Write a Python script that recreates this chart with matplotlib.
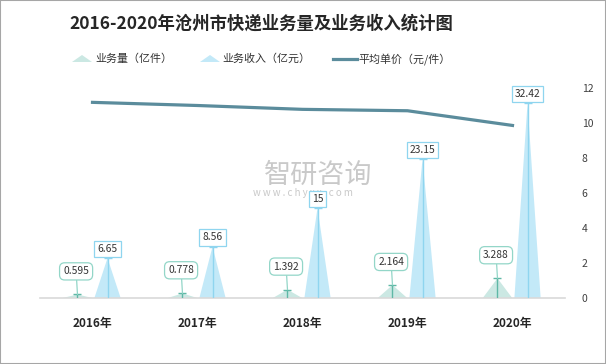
import numpy as np
import matplotlib.pyplot as plt
from matplotlib.patches import Rectangle

plt.rcParams['font.family'] = ['Noto Sans CJK SC', 'DejaVu Sans']

years = ['2016年', '2017年', '2018年', '2019年', '2020年']
volume = [0.595, 0.778, 1.392, 2.164, 3.288]      # 业务量（亿件）
revenue = [6.65, 8.56, 15, 23.15, 32.42]          # 业务收入（亿元）
price = [11.18, 11.00, 10.78, 10.70, 9.86]        # 平均单价（元/件）
right_ticks = [0, 2, 4, 6, 8, 10, 12]

c_vol = '#cbe8e3'
c_vol_line = '#5fb8a6'
c_vol_box = '#93d6c8'
c_rev = '#c3e9f8'
c_rev_line = '#8fd5ef'
c_price = '#5b8c9c'

fig = plt.figure(figsize=(6.06, 3.64), dpi=100)
fig.patches.append(Rectangle((0, 0), 1, 1, transform=fig.transFigure,
                             fill=False, edgecolor='#a6a6a6', lw=1.5))

ax = fig.add_axes([40 / 606, 66 / 364, 525 / 606, 210 / 364])
ax2 = ax.twinx()

x = np.arange(len(years))
off = 0.143
hw_vol = 0.14
hw_rev = 0.125

for i in range(len(years)):
    xv = x[i] - off
    xr = x[i] + off
    ax.fill([xv - hw_vol, xv, xv + hw_vol], [0, volume[i], 0], color=c_vol, lw=0, zorder=2)
    ax.fill([xr - hw_rev, xr, xr + hw_rev], [0, revenue[i], 0], color=c_rev, lw=0, zorder=2)

ax.vlines(x - off, 0, volume, color=c_vol_line, lw=1, zorder=3)
ax.plot(x - off, volume, ls='none', marker='_', ms=6, mew=1, color=c_vol_line, zorder=3)
ax.vlines(x + off, 0, revenue, color=c_rev_line, lw=1, zorder=3)
ax.plot(x + off, revenue, ls='none', marker='_', ms=6, mew=1, color=c_rev_line, zorder=3)

for i in range(len(years)):
    ax.annotate(f'{volume[i]:g}', xy=(x[i] - off, volume[i]), xytext=(-1, 13),
                textcoords='offset points', ha='center', va='bottom', fontsize=7.4,
                color='#333333', zorder=5,
                bbox=dict(boxstyle='round,pad=0.35,rounding_size=0.5', fc='white',
                          ec=c_vol_box, lw=0.9),
                arrowprops=dict(arrowstyle='-', color=c_vol_box, lw=0.9,
                                shrinkA=0, shrinkB=0))
    ax.annotate(f'{revenue[i]:g}', xy=(x[i] + off, revenue[i]), xytext=(0, 3),
                textcoords='offset points', ha='center', va='bottom', fontsize=7.4,
                color='#333333', zorder=5,
                bbox=dict(boxstyle='square,pad=0.3', fc='white', ec=c_rev_line, lw=0.9))

ax.set_xlim(-0.5, len(years) - 0.5)
ax.set_ylim(0, 35)
ax.set_xticks(x)
ax.set_xticklabels(years, fontsize=8.5, fontweight='bold', color='#262626')
ax.tick_params(axis='x', length=0, pad=14)
ax.set_yticks([])
for s in ['top', 'left', 'right']:
    ax.spines[s].set_visible(False)
ax.spines['bottom'].set_color('#d9d9d9')
ax.spines['bottom'].set_linewidth(1.2)

ax2.plot(x, price, color=c_price, lw=2.3, zorder=4)
ax2.set_ylim(0, 12)
ax2.set_yticks(right_ticks)
ax2.tick_params(axis='y', length=0, labelsize=7.5, labelcolor='#404040', pad=12)
for s in ['top', 'left', 'right', 'bottom']:
    ax2.spines[s].set_visible(False)
ax.set_zorder(ax2.get_zorder() + 1)
ax.patch.set_visible(False)

# watermark
fig.text(318 / 606, 1 - 175 / 364, '智研咨询', fontsize=19.5, color='#c9c9c9',
         ha='center', va='center', zorder=0)
fig.text(303 / 606, 1 - 193 / 364, 'w w w . c h y x x . c o m', fontsize=7,
         color='#c9c9c9', ha='center', va='center', zorder=0)

fig.text(261 / 606, 1 - 24 / 364, '2016-2020年沧州市快递业务量及业务收入统计图',
         fontsize=12.5, fontweight='bold', color='#262626', ha='center', va='center')

# legend
ly = 1 - 59 / 364
leg_ax = fig.add_axes([0, 0, 1, 1], facecolor='none')
leg_ax.set_xlim(0, 606)
leg_ax.set_ylim(364, 0)
leg_ax.axis('off')
leg_ax.fill([72, 82, 92], [62, 55, 62], color=c_vol, lw=0)
leg_ax.fill([200, 210, 220], [62, 55, 62], color=c_rev, lw=0)
leg_ax.plot([333, 357], [59, 59], color=c_price, lw=2.3)
fig.text(95 / 606, ly, '业务量（亿件）', fontsize=7.9, color='#333333', va='center')
fig.text(222 / 606, ly, '业务收入（亿元）', fontsize=7.9, color='#333333', va='center')
fig.text(358 / 606, ly, '平均单价（元/件）', fontsize=7.9, color='#333333', va='center')

fig.savefig('out.png', dpi=100)
